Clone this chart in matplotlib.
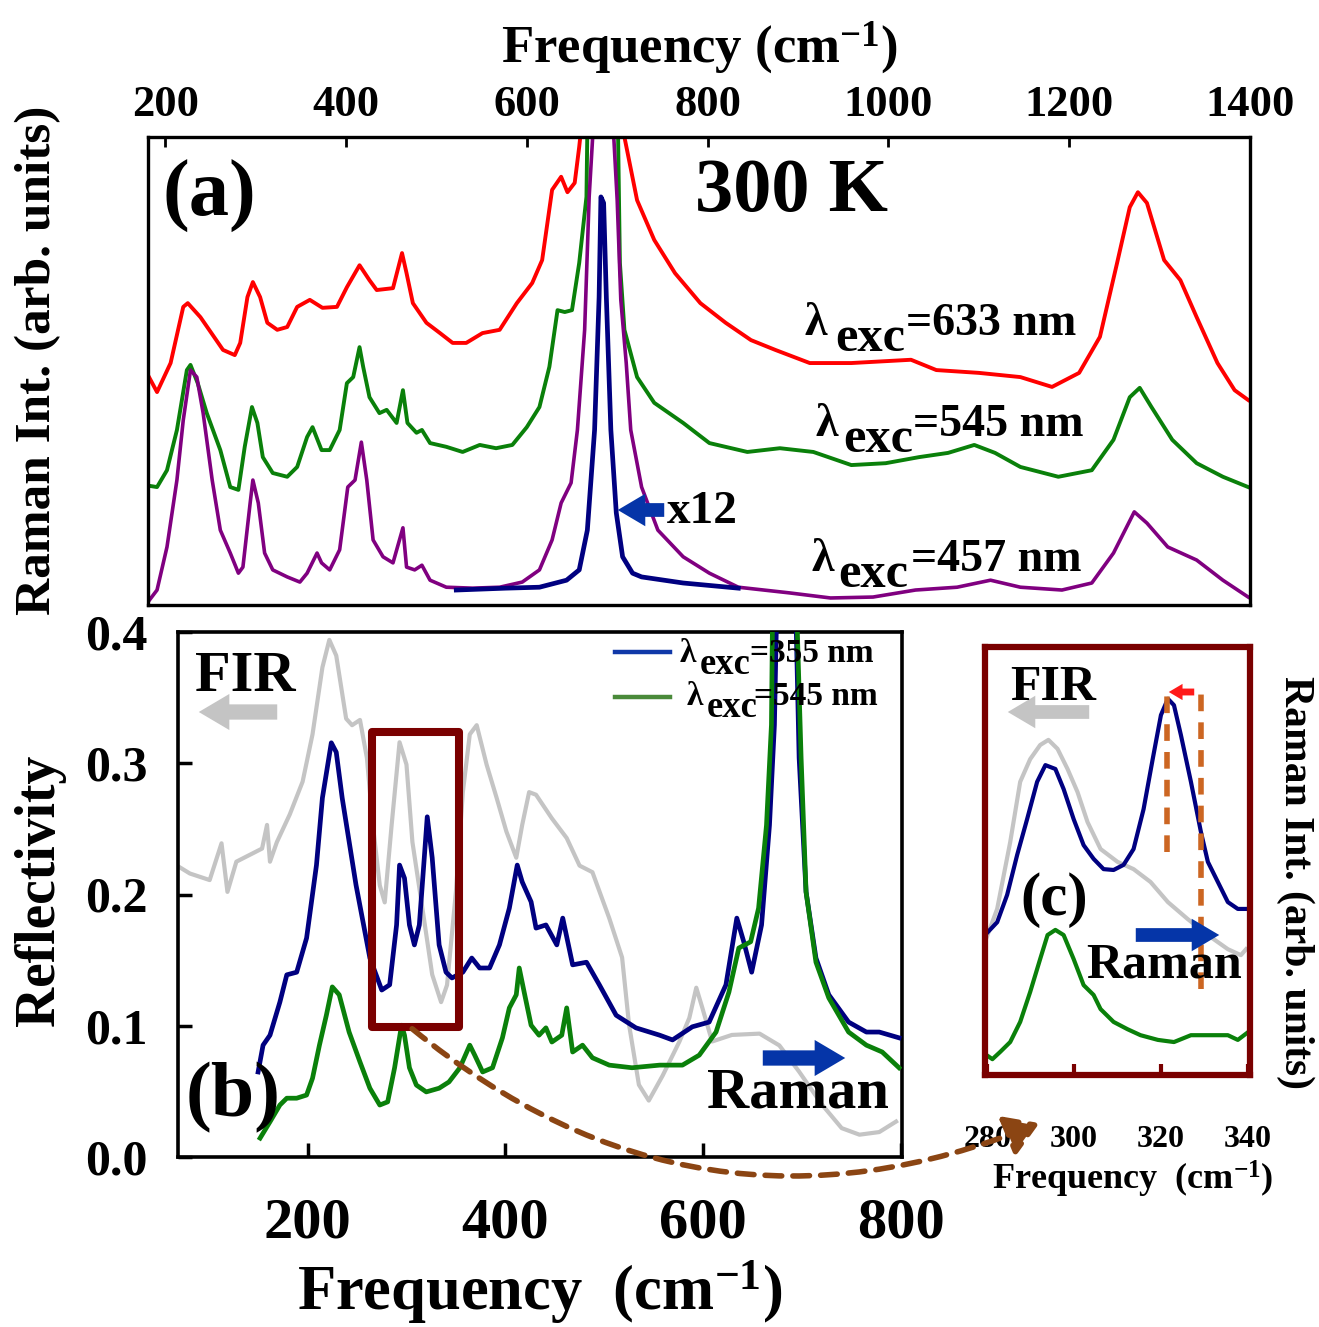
import matplotlib
matplotlib.use('Agg')
import matplotlib.pyplot as plt
from matplotlib.patches import Rectangle, FancyArrowPatch
from matplotlib.lines import Line2D

plt.rcParams['font.family'] = 'Liberation Serif'
plt.rcParams['font.weight'] = 'bold'
plt.rcParams['axes.labelweight'] = 'bold'
plt.rcParams['mathtext.fontset'] = 'custom'
plt.rcParams['mathtext.rm'] = 'Liberation Serif:bold'
plt.rcParams['mathtext.bf'] = 'Liberation Serif:bold'
plt.rcParams['mathtext.it'] = 'Liberation Serif:bold'

# ---- panel (a): Raman spectra at 300 K (arb. units) ----
red_freq = [181, 191, 206, 220, 225, 239, 264, 277, 283, 291, 297, 305, 313, 324, 335, 346, 360, 374, 390, 401,
            415, 426, 434, 452, 462, 467, 474, 489, 504, 518, 533, 551, 570, 589, 606, 617, 628, 638, 645, 653,
            658, 660, 684, 708, 722, 741, 764, 792, 820, 848, 875, 913, 959, 1025, 1053, 1100, 1146, 1181, 1211,
            1234, 1253, 1267, 1276, 1286, 1305, 1323, 1341, 1364, 1383, 1398]
red_int = [49.1, 45.5, 51.7, 63.7, 64.5, 61.5, 54.5, 53.4, 56.0, 65.8, 69.0, 65.8, 60.3, 58.8, 59.4, 63.7, 65.2,
           63.5, 63.7, 67.9, 72.6, 69.4, 67.3, 67.7, 75.2, 70.9, 64.5, 60.3, 58.1, 56.0, 56.0, 58.1, 58.8, 64.5,
           68.8, 73.7, 88.7, 91.5, 88.2, 90.2, 97.9, 101.5, 140, 100, 86.5, 78.0, 70.9, 64.5, 60.3, 56.6, 54.5,
           51.7, 51.7, 52.4, 50.2, 49.6, 48.7, 46.6, 49.6, 57.3, 73.1, 85.0, 88.2, 85.9, 73.7, 69.4, 61.5, 51.7,
           45.9, 43.8]

green_a_freq = [178, 191, 202, 213, 224, 228, 236, 246, 261, 272, 281, 288, 296, 302, 308, 319, 335, 346, 357, 363,
                373, 382, 393, 401, 408, 415, 419, 426, 437, 445, 456, 463, 468, 478, 484, 493, 511, 529, 548, 566,
                584, 600, 614, 625, 634, 642, 650, 658, 666, 667, 688, 701, 703, 708, 722, 741, 773, 802, 844, 880,
                917, 959, 997, 1034, 1066, 1095, 1118, 1146, 1188, 1225, 1249, 1267, 1278, 1291, 1314, 1341, 1370,
                1398]
green_a_int = [25.6, 25.2, 28.8, 37.4, 50.2, 51.3, 47.4, 41.0, 33.1, 25.2, 24.6, 33.8, 42.3, 38.9, 31.6, 28.2, 27.4,
               29.5, 35.9, 38.0, 33.1, 33.1, 37.4, 47.4, 48.7, 55.1, 50.9, 44.4, 41.0, 41.7, 38.9, 45.9, 38.9, 36.8,
               37.4, 34.6, 33.8, 32.7, 34.2, 33.5, 34.2, 38.0, 42.3, 50.9, 63.0, 62.6, 63.0, 73.1, 87.2, 101.5, 140,
               100, 73.1, 58.8, 48.7, 43.2, 38.9, 34.6, 32.7, 33.5, 32.7, 29.9, 30.3, 31.6, 32.5, 34.2, 32.5, 29.5,
               27.4, 28.8, 35.3, 44.4, 46.4, 42.3, 35.3, 30.3, 27.4, 25.2]

purple_freq = [180, 191, 202, 213, 220, 228, 235, 242, 252, 261, 272, 281, 286, 294, 297, 303, 310, 319, 335, 349,
               357, 368, 373, 382, 393, 402, 410, 417, 423, 430, 441, 452, 463, 467, 476, 484, 493, 511, 540, 570,
               595, 614, 628, 638, 649, 656, 664, 669, 685, 700, 704, 710, 715, 727, 745, 773, 802, 834, 890, 936,
               983, 1030, 1076, 1113, 1146, 1192, 1225, 1249, 1272, 1286, 1309, 1341, 1370, 1398]
purple_int = [0.4, 3.2, 12.4, 26.7, 39.5, 50.2, 48.7, 41.0, 26.7, 16.0, 11.1, 6.8, 8.1, 21.8, 26.7, 21.8, 11.1, 7.5,
              6.0, 4.9, 6.8, 11.1, 9.0, 7.5, 11.8, 25.2, 26.7, 34.8, 26.7, 13.9, 10.3, 9.0, 16.5, 8.1, 7.5, 8.5,
              5.3, 3.8, 3.6, 3.8, 4.9, 7.5, 13.9, 21.8, 26.1, 37.4, 58.8, 87.2, 140, 86.5, 65.2, 51.7, 37.4, 25.2,
              16.0, 10.3, 6.8, 3.8, 2.6, 1.5, 1.7, 3.2, 3.8, 5.3, 3.8, 3.2, 4.7, 11.1, 19.9, 17.5, 12.4, 9.6, 5.3,
              1.7]

# 355 nm spectrum scaled x12
blue_a_freq = [522, 577, 614, 644, 658, 667, 675, 680, 682, 685, 688, 693, 699, 706, 717, 727, 773, 834]
blue_a_int = [3.2, 3.6, 3.8, 5.3, 7.5, 16.0, 37.4, 65.8, 87.2, 85.9, 65.8, 37.4, 19.7, 10.3, 6.8, 6.0, 4.7, 3.6]

# ---- panel (b): FIR reflectivity and Raman ----
fir_freq = [68, 81, 101, 113, 119, 128, 141, 154, 159, 162, 169, 182, 195, 205, 215, 222, 229, 239, 245, 253,
            260, 266, 273, 278, 285, 293, 300, 306, 316, 326, 335, 341, 350, 357, 364, 371, 381, 391, 401, 411,
            417, 424, 431, 447, 462, 475, 488, 505, 518, 525, 535, 545, 559, 576, 586, 593, 599, 609, 629, 657,
            677, 697, 720, 740, 758, 778, 795]
fir_refl = [0.222, 0.216, 0.211, 0.239, 0.202, 0.225, 0.230, 0.235, 0.253, 0.225, 0.240, 0.261, 0.286, 0.322,
            0.373, 0.394, 0.382, 0.334, 0.329, 0.333, 0.304, 0.253, 0.207, 0.194, 0.253, 0.316, 0.299, 0.240,
            0.190, 0.139, 0.118, 0.131, 0.202, 0.278, 0.322, 0.329, 0.299, 0.274, 0.248, 0.228, 0.253, 0.278,
            0.276, 0.258, 0.243, 0.222, 0.217, 0.182, 0.152, 0.101, 0.055, 0.043, 0.062, 0.088, 0.106, 0.129,
            0.114, 0.088, 0.093, 0.094, 0.085, 0.065, 0.040, 0.022, 0.017, 0.019, 0.027]

blue_b_freq = [150, 155, 162, 172, 179, 189, 199, 209, 215, 224, 229, 235, 249, 263, 275, 283, 290, 293, 298, 303,
               308, 313, 318, 321, 326, 333, 340, 346, 357, 366, 374, 384, 394, 404, 412, 417, 426, 431, 441, 452,
               458, 468, 482, 495, 512, 532, 556, 569, 589, 606, 623, 634, 641, 649, 659, 667, 672, 674, 685, 694,
               697, 704, 714, 727, 747, 765, 778, 798]
blue_b_int = [16.2, 21.3, 23.2, 29.5, 34.7, 35.2, 41.7, 55.6, 68.4, 78.9, 77.1, 68.4, 51.8, 37.9, 31.8, 32.8, 44.2,
              55.6, 53.1, 44.2, 40.4, 44.2, 57.0, 64.8, 57.0, 40.4, 35.2, 34.1, 35.2, 37.9, 36.0, 36.0, 40.4, 47.4,
              55.6, 52.4, 48.6, 43.6, 44.2, 40.4, 45.5, 36.6, 37.1, 32.8, 27.0, 24.6, 23.2, 22.3, 24.8, 25.7, 32.8,
              45.5, 41.0, 35.2, 44.2, 63.2, 82.3, 101.3, 140, 101.3, 76.0, 50.5, 37.9, 30.9, 25.7, 23.8, 23.8, 22.7]

green_b_freq = [152, 162, 172, 179, 189, 199, 205, 212, 219, 225, 232, 242, 253, 263, 273, 281, 288, 295, 298, 303,
                310, 320, 333, 343, 354, 364, 369, 377, 387, 397, 404, 411, 414, 419, 426, 434, 441, 447, 457, 462,
                468, 478, 488, 505, 528, 556, 579, 596, 613, 626, 636, 648, 656, 664, 669, 670, 685, 695, 699, 704,
                714, 727, 747, 765, 781, 798]
green_b_int = [3.6, 6.7, 9.9, 11.2, 11.2, 11.8, 15.0, 21.3, 27.0, 32.4, 30.9, 23.8, 18.1, 13.1, 9.9, 10.5, 17.0,
               25.1, 23.2, 17.0, 13.7, 12.4, 13.1, 14.3, 17.0, 21.3, 19.4, 16.2, 17.0, 22.7, 28.4, 30.9, 36.0, 31.4,
               25.1, 23.2, 24.6, 21.9, 23.2, 28.4, 20.0, 21.3, 18.9, 17.5, 17.0, 17.5, 17.5, 19.4, 23.8, 31.4, 39.8,
               41.0, 47.4, 63.2, 82.3, 101.3, 140, 101.3, 76.0, 50.5, 37.1, 30.3, 23.8, 21.3, 20.0, 17.0]

# ---- panel (c): zoom 280-340 cm-1 ----
fir_c_freq = [279.5, 282.3, 285.3, 287.6, 289.9, 292.2, 294.1, 296.2, 298.5, 300.8, 303.1, 306.1, 310.0, 313.7,
              317.6, 321.6, 326.2, 330.8, 335.4, 338.4, 339.6]
fir_c_int = [31.1, 38.8, 54.4, 68.5, 73.8, 77.1, 78.3, 76.2, 71.5, 66.1, 59.1, 52.8, 49.8, 48.1, 45.1, 40.4, 36.4,
             32.7, 29.4, 28.0, 29.4]
blue_c_freq = [279.5, 282.3, 284.6, 286.9, 289.2, 291.5, 293.4, 295.7, 297.6, 299.9, 302.2, 304.5, 306.8, 309.1,
               311.4, 313.7, 316.0, 318.1, 320.0, 321.6, 323.0, 324.6, 326.9, 329.2, 330.8, 333.1, 335.4, 337.7,
               340.7]
blue_c_int = [32.7, 35.7, 42.1, 51.4, 59.8, 68.5, 72.4, 71.5, 66.8, 59.8, 53.7, 50.5, 48.1, 47.9, 49.1, 52.8, 62.1,
              73.8, 84.1, 87.9, 86.4, 79.4, 68.5, 56.8, 49.8, 45.1, 40.4, 38.8, 38.8]
green_c_freq = [279.5, 281.2, 283.0, 285.3, 287.6, 289.9, 292.2, 293.9, 295.7, 297.6, 299.9, 302.2, 304.5, 306.1,
                309.1, 312.3, 315.3, 319.3, 323.0, 326.9, 331.5, 335.4, 337.7, 340.7]
green_c_int = [4.9, 3.7, 5.4, 7.7, 12.4, 19.4, 27.1, 32.7, 33.9, 32.7, 27.1, 21.0, 18.7, 15.4, 12.4, 10.7, 9.3, 8.2,
               7.7, 9.3, 9.3, 9.3, 8.2, 10.5]

RED, GREEN, PURPLE, NAVY, GRAY = '#ff0000', '#0a800a', '#800080', '#000080', '#c4c4c4'
ARROW_BLUE, DARKRED, BROWN, ORANGE = '#0535a8', '#7a0000', '#8b4513', '#cc6622'

W, H = 1319, 1327
fig = plt.figure(figsize=(W / 100, H / 100), dpi=100)


def fpos(px, py):
    # pixel position in the figure -> figure fraction
    return (px / W, 1 - py / H)


def block_arrow(p0, p1, color, scale=20):
    fig.add_artist(FancyArrowPatch(fpos(*p0), fpos(*p1), transform=fig.transFigure,
                                   arrowstyle='simple,head_length=1.1,head_width=1.3,tail_width=0.55',
                                   mutation_scale=scale, color=color, lw=0))


def exc_label(x_lam, x_exc, x_rest, base, rest, size, drop):
    # lambda_exc=... built from pieces, subscript kept near full size as in the original
    fig.text(*fpos(x_lam, base), 'λ', fontsize=size, ha='left', va='baseline')
    fig.text(*fpos(x_exc, base + drop), 'exc', fontsize=size * 1.1, ha='left', va='baseline')
    fig.text(*fpos(x_rest, base), rest, fontsize=size, ha='left', va='baseline')


# (a)
ax_a = fig.add_axes([148 / W, 1 - 605 / H, 1102 / W, 468 / H])
ax_a.plot(red_freq, red_int, color=RED, lw=2.8)
ax_a.plot(green_a_freq, green_a_int, color=GREEN, lw=2.8)
ax_a.plot(purple_freq, purple_int, color=PURPLE, lw=2.6)
ax_a.plot(blue_a_freq, blue_a_int, color=NAVY, lw=3.4)
ax_a.set_xlim(181, 1400)
ax_a.set_ylim(0, 100)
ax_a.xaxis.tick_top()
ax_a.xaxis.set_label_position('top')
ax_a.set_xticks(range(200, 1401, 200))
ax_a.set_yticks([])
ax_a.tick_params(axis='x', direction='in', length=7, width=2, labelsize=32, pad=9)
ax_a.set_xlabel('Frequency (cm$^{-1}$)', fontsize=38, labelpad=16)
for s in ax_a.spines.values():
    s.set_linewidth(2.4)

fig.text(*fpos(38, 360), 'Raman Int. (arb. units)', rotation=90, fontsize=37, ha='center', va='center')
fig.text(*fpos(162, 196), '(a)', fontsize=58, ha='left', va='center')
fig.text(*fpos(695, 192), '300 K', fontsize=55, ha='left', va='center')
exc_label(805, 835, 906, 335, '=633 nm', 33, 16)
exc_label(815, 843, 913, 436, '=545 nm', 33, 16)
exc_label(812, 838, 911, 571, '=457 nm', 33, 16)
fig.text(*fpos(667, 523), 'x12', fontsize=34, ha='left', va='baseline')
block_arrow((667, 510), (615, 510), ARROW_BLUE, 18)

# (b)
ax_b = fig.add_axes([178 / W, 1 - 1157 / H, 724 / W, 525 / H])
ax_b.plot(fir_freq, fir_refl, color=GRAY, lw=3.0)
ax_b.set_xlim(69, 801)
ax_b.set_ylim(0, 0.4)
ax_b.set_xticks([200, 400, 600, 800])
ax_b.set_yticks([0, 0.1, 0.2, 0.3, 0.4])
ax_b.set_yticklabels(['0.0', '0.1', '0.2', '0.3', '0.4'])
ax_b.tick_params(axis='x', direction='in', length=10, width=2.5, labelsize=42, pad=29)
ax_b.tick_params(axis='y', direction='in', length=10, width=2.5, labelsize=36, pad=22)
for s in ax_b.spines.values():
    s.set_linewidth(2.6)

ax_r = ax_b.twinx()
ax_r.plot(blue_b_freq, blue_b_int, color=NAVY, lw=3.4)
ax_r.plot(green_b_freq, green_b_int, color=GREEN, lw=3.4)
ax_r.set_ylim(0, 100)
ax_r.set_yticks([])
for s in ax_r.spines.values():
    s.set_visible(False)
ax_r.add_patch(Rectangle((265, 0.099 * 250), 88, (0.324 - 0.099) * 250, fill=False,
                         edgecolor=DARKRED, lw=5.8, joinstyle='round', zorder=5))

# legend of (b), drawn by hand to keep the wide subscript
fig.add_artist(Line2D([615 / W, 670 / W], [fpos(0, 652)[1]] * 2, transform=fig.transFigure,
                      color='#1038a8', lw=3.2))
fig.add_artist(Line2D([615 / W, 670 / W], [fpos(0, 697)[1]] * 2, transform=fig.transFigure,
                      color='#4a8a3a', lw=3.2))
exc_label(680, 700, 750, 662, '=355 nm', 24, 12)
exc_label(687, 707, 754, 705, '=545 nm', 24, 12)

fig.text(*fpos(40, 890), 'Reflectivity', rotation=90, fontsize=40, ha='center', va='center')
fig.text(*fpos(540, 1292), 'Frequency  (cm$^{-1}$)', fontsize=45, ha='center', va='center')
fig.text(*fpos(195, 691), 'FIR', fontsize=42, ha='left', va='baseline')
block_arrow((280, 712), (196, 712), GRAY, 20)
fig.text(*fpos(186, 1098), '(b)', fontsize=56, ha='left', va='center')
fig.text(*fpos(707, 1107), 'Raman', fontsize=42, ha='left', va='baseline')
block_arrow((760, 1058), (848, 1058), ARROW_BLUE, 20)

# (c)
ax_c = fig.add_axes([985 / W, 1 - 1075 / H, 265 / W, 428 / H])
ax_c.plot(fir_c_freq, fir_c_int, color=GRAY, lw=3.0)
ax_c.plot(blue_c_freq, blue_c_int, color=NAVY, lw=3.0)
ax_c.plot(green_c_freq, green_c_int, color=GREEN, lw=3.0)
ax_c.vlines([321.3], 52, 90.5, colors=ORANGE, lw=4, linestyles=(0, (3, 2)))
ax_c.vlines([329.2], 20, 89.5, colors=ORANGE, lw=4, linestyles=(0, (3, 2)))
ax_c.set_xlim(279.5, 340.5)
ax_c.set_ylim(0, 100)
ax_c.set_xticks([280, 300, 320, 340])
ax_c.set_yticks([])
ax_c.tick_params(axis='x', direction='in', length=8, width=3, color=DARKRED, labelsize=23, pad=36)
for s in ax_c.spines.values():
    s.set_linewidth(4.5)
    s.set_color(DARKRED)

fig.text(*fpos(1133, 1179), 'Frequency  (cm$^{-1}$)', fontsize=26, ha='center', va='center')
fig.text(*fpos(1295, 882), 'Raman Int. (arb. units)', rotation=270, fontsize=30, ha='center', va='center')
fig.text(*fpos(1010, 700), 'FIR', fontsize=36, ha='left', va='baseline')
block_arrow((1092, 712), (1005, 712), GRAY, 18)
fig.text(*fpos(1020, 900), '(c)', fontsize=44, ha='left', va='center')
fig.text(*fpos(1086, 978), 'Raman', fontsize=36, ha='left', va='baseline')
block_arrow((1133, 935), (1222, 935), ARROW_BLUE, 18)
block_arrow((1197, 692), (1166, 692), '#ff1a1a', 9)

# dashed connector from the box in (b) to panel (c)
fig.add_artist(FancyArrowPatch(fpos(410, 1027), fpos(1042, 1122), transform=fig.transFigure,
                               connectionstyle='arc3,rad=0.3', arrowstyle='-|>,head_length=0.8,head_width=0.5',
                               mutation_scale=25, color=BROWN, lw=4, linestyle=(0, (3, 2))))

fig.savefig('out.png', dpi=100)
